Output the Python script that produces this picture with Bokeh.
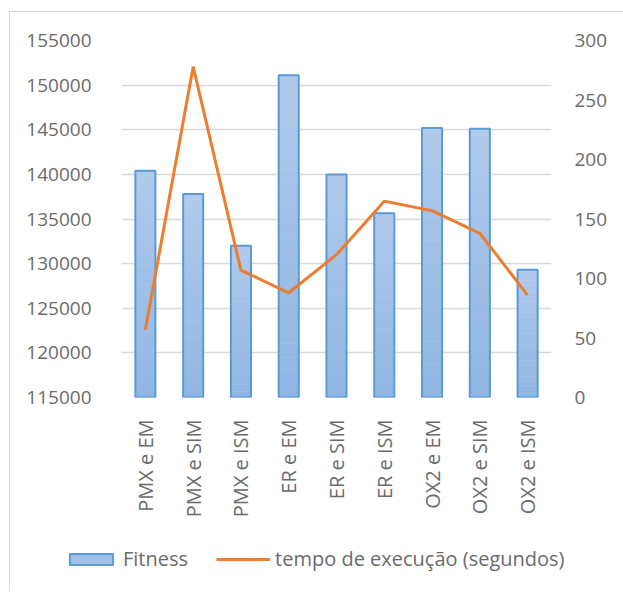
import numpy as np
from bokeh.plotting import figure
from bokeh.layouts import column
from bokeh.models import (LinearAxis, Range1d, FixedTicker, Legend, LegendItem,
                          BasicTickFormatter)
from bokeh.embed import file_html
from bokeh.resources import INLINE

categories = ["PMX e EM", "PMX e SIM", "PMX e ISM", "ER e EM", "ER e SIM",
              "ER e ISM", "OX2 e EM", "OX2 e SIM", "OX2 e ISM"]
fitness = [140400, 137800, 132000, 151100, 140000, 135650, 145200, 145100, 129300]
tempo = [57, 278, 107, 88, 120, 165, 157, 138, 86]
left_ticks = [115000, 120000, 125000, 130000, 135000, 140000, 145000, 150000, 155000]
right_ticks = [0, 50, 100, 150, 200, 250, 300]

FONT = "Open Sans"
TXT = "#6b6b6b"
FS = "20px"
FS_NUM = "19px"
BAR_LINE = "#5b9bd5"
LINE_COL = "#ed7d31"

p = figure(width=613, height=523, x_range=categories,
           y_range=Range1d(115000, 155000),
           output_backend="svg", toolbar_location=None,
           min_border_left=111, min_border_right=72,
           min_border_top=28, min_border_bottom=138)
p.frame_align = False
p.outline_line_color = None
p.background_fill_color = "white"
p.border_fill_color = "white"

p.extra_y_ranges = {"tempo": Range1d(0, 300)}

# gradient bars (slices)
n = 24
top_c = np.array([0xb0, 0xca, 0xeb])
bot_c = np.array([0x90, 0xb6, 0xe3])
xs, bots, tops, cols = [], [], [], []
for c, v in zip(categories, fitness):
    edges = np.linspace(115000, v, n + 1)
    for i in range(n):
        t = (i + 0.5) / n
        col = bot_c + (top_c - bot_c) * t
        xs.append(c)
        bots.append(edges[i])
        tops.append(edges[i + 1])
        cols.append("#%02x%02x%02x" % tuple(int(round(k)) for k in col))
p.vbar(x=xs, bottom=bots, top=tops, width=0.42, fill_color=cols,
       line_color=cols, line_width=0.6)
p.vbar(x=categories, bottom=115000, top=fitness, width=0.42,
       fill_color=None, line_color=BAR_LINE, line_width=2)

p.line(x=categories, y=tempo, y_range_name="tempo",
       line_color=LINE_COL, line_width=3)

# axes
p.yaxis.ticker = FixedTicker(ticks=left_ticks)
p.yaxis.formatter = BasicTickFormatter(use_scientific=False)
ax_r = LinearAxis(y_range_name="tempo", ticker=FixedTicker(ticks=right_ticks))
p.add_layout(ax_r, "right")
for ax in p.yaxis + [ax_r] + p.xaxis:
    ax.axis_line_color = None
    ax.major_tick_line_color = None
    ax.minor_tick_line_color = None
    ax.major_label_text_font = FONT
    ax.major_label_text_font_size = FS_NUM
    ax.major_label_text_color = TXT
p.xaxis.major_label_text_font_size = FS
p.yaxis[0].major_label_standoff = 24
ax_r.major_label_standoff = 17
p.xaxis.major_label_orientation = np.pi / 2
p.xaxis.major_label_standoff = 16

p.xgrid.grid_line_color = None
p.ygrid.grid_line_color = "#d9d9d9"
p.ygrid.grid_line_width = 1.5
p.ygrid.ticker = FixedTicker(ticks=left_ticks)

# legend figure
q = figure(width=613, height=55, x_range=Range1d(0, 1), y_range=Range1d(0, 1),
           output_backend="svg", toolbar_location=None,
           x_axis_type=None, y_axis_type=None,
           min_border=0, min_border_left=0, min_border_right=0,
           min_border_top=0, min_border_bottom=0)
q.frame_align = False
q.outline_line_color = None
q.xgrid.grid_line_color = None
q.ygrid.grid_line_color = None
q.border_fill_color = "white"
leg_bar = q.vbar(x=[-5], bottom=[-5], top=[-4], width=0.1,
                 fill_color="#a2c1e8", line_color=BAR_LINE, line_width=2)
leg_line = q.line(x=[-5, -4], y=[-5, -4], line_color=LINE_COL, line_width=3)

legend = Legend(items=[LegendItem(label="Fitness", renderers=[leg_bar]),
                       LegendItem(label="tempo de execução (segundos)", renderers=[leg_line])],
                orientation="horizontal", location=(54, 18),
                glyph_width=54, glyph_height=14, label_standoff=5, spacing=28,
                padding=0, margin=0, border_line_color=None,
                background_fill_alpha=0,
                label_text_font=FONT, label_text_font_size=FS,
                label_text_color=TXT, label_height=20)
q.add_layout(legend, "center")

layout = column(p, q, spacing=0)
layout.styles = {"margin-left": "9px", "margin-top": "11px",
                 "border-left": "1px solid #d9d9d9", "border-top": "1px solid #d9d9d9"}

open("out.html", "w").write(file_html(layout, INLINE))
